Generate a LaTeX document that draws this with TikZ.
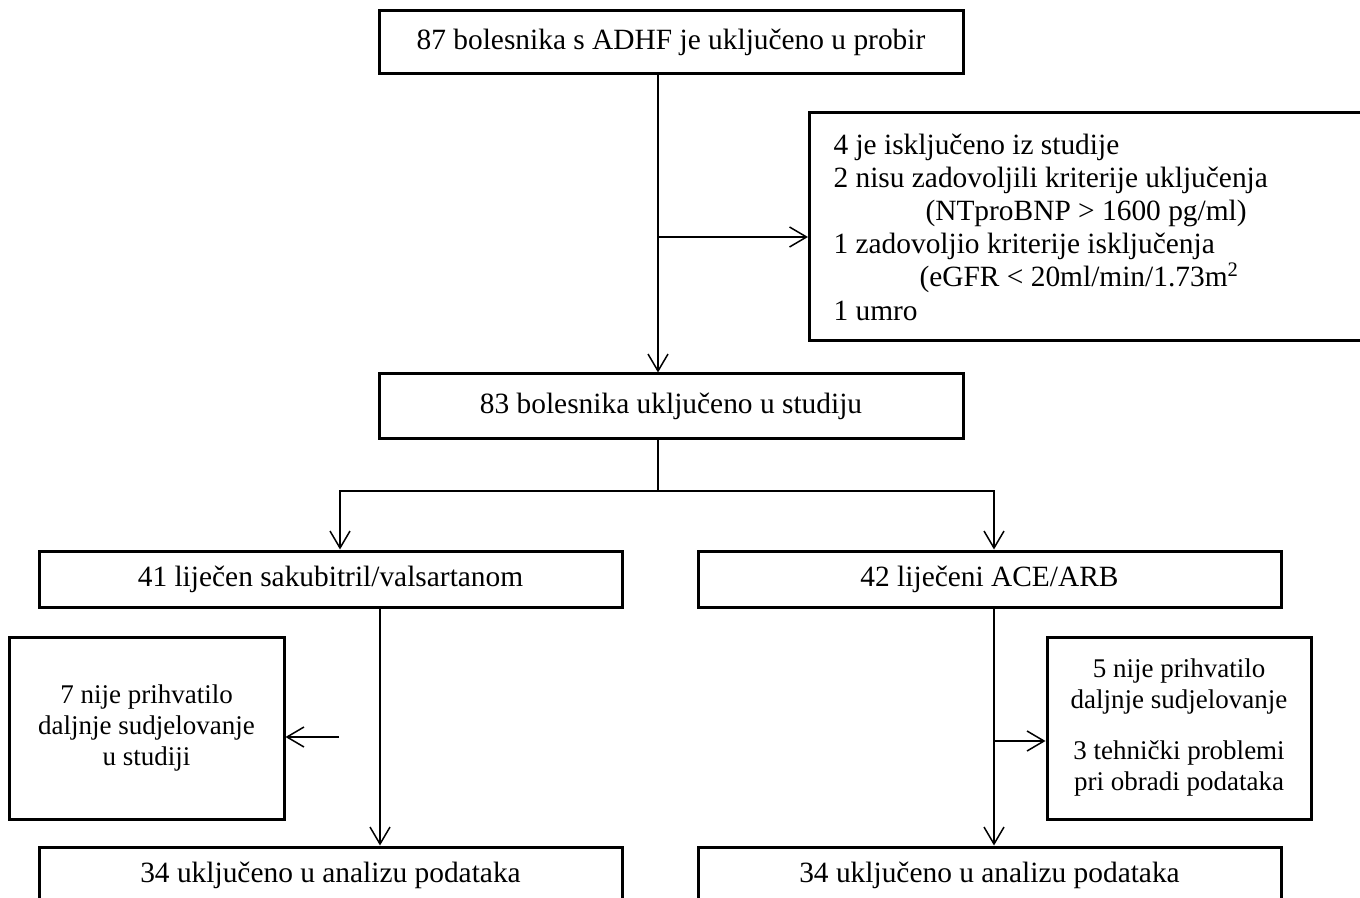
\documentclass[tikz,border=0pt]{standalone}
\usepackage{fontspec}
\setmainfont{Liberation Serif}
\usetikzlibrary{positioning,arrows.meta}

\begin{document}
\begin{tikzpicture}[x=0.5pt, y=-0.5pt, line width=0.75pt, >={Straight Barb[length=8.5pt,width=10pt]},
  every node/.style={draw, line width=1.5pt, align=center, inner sep=0pt, font=\fontsize{14.7}{16.6}\selectfont},
  wide/.style={minimum width=291.5pt, minimum height=28pt},
  side/.style={minimum width=137.5pt, minimum height=91pt, font=\fontsize{13.5}{15.5}\selectfont}]
\clip (0,0) rectangle (1360,898);
\coordinate (spine) at (658,0);
\coordinate (splitA) at (340,491);
\coordinate (splitB) at (994,491);
\coordinate (trunkA) at (380,0);
\coordinate (dropX) at (658,237);
\coordinate (dropA) at (339,737);
\coordinate (dropB) at (994,741);
\node[minimum width=292pt, minimum height=31.5pt] (screen) at (671,42.5) {87 bolesnika s ADHF je uključeno u probir};
\node[anchor=west, text width=272pt, align=flush left, inner xsep=12pt, minimum height=114pt] (excl) at (808,227) {4 je isključeno iz studije\\
2 nisu zadovoljili kriterije uključenja\\
\hspace*{46pt}(NTproBNP > 1600 pg/ml)\\
1 zadovoljio kriterije isključenja\\
\hspace*{43pt}(eGFR < 20ml/min/1.73m\textsuperscript{2}\\
1 umro};
\node[minimum width=292pt, minimum height=32.5pt] (incl) at (671,406.5) {83 bolesnika uključeno u studiju};
\node[wide] (armA) at (330.5,579) {41 liječen sakubitril/valsartanom};
\node[wide] (armB) at (989.5,579) {42 liječeni ACE/ARB};
\node[side] (lossA) at (146.5,728) {7 nije prihvatilo\\ daljnje sudjelovanje\\ u studiji};
\node[side, minimum width=132pt] (lossB) at (1179,728) {5 nije prihvatilo\\ daljnje sudjelovanje\\[10pt] 3 tehnički problemi\\ pri obradi podataka};
\node[wide] (anaA) at (330.5,875) {34 uključeno u analizu podataka};
\node[wide] (anaB) at (989.5,875) {34 uključeno u analizu podataka};
\draw[->] (screen.south -| spine) -- (incl.north -| spine);
\draw[->] (dropX) -- (excl.west |- dropX);
\draw[->] (incl.south -| spine) |- (splitA) -- (armA.north -| splitA);
\draw[->] (incl.south -| spine) |- (splitB) -- (armB.north -| splitB);
\draw[->] (armA.south -| trunkA) -- (anaA.north -| trunkA);
\draw[->] (dropA) -- (lossA.east |- dropA);
\draw[->] (armB.south -| splitB) -- (anaB.north -| splitB);
\draw[->] (dropB) -- (lossB.west |- dropB);
\end{tikzpicture}
\end{document}
